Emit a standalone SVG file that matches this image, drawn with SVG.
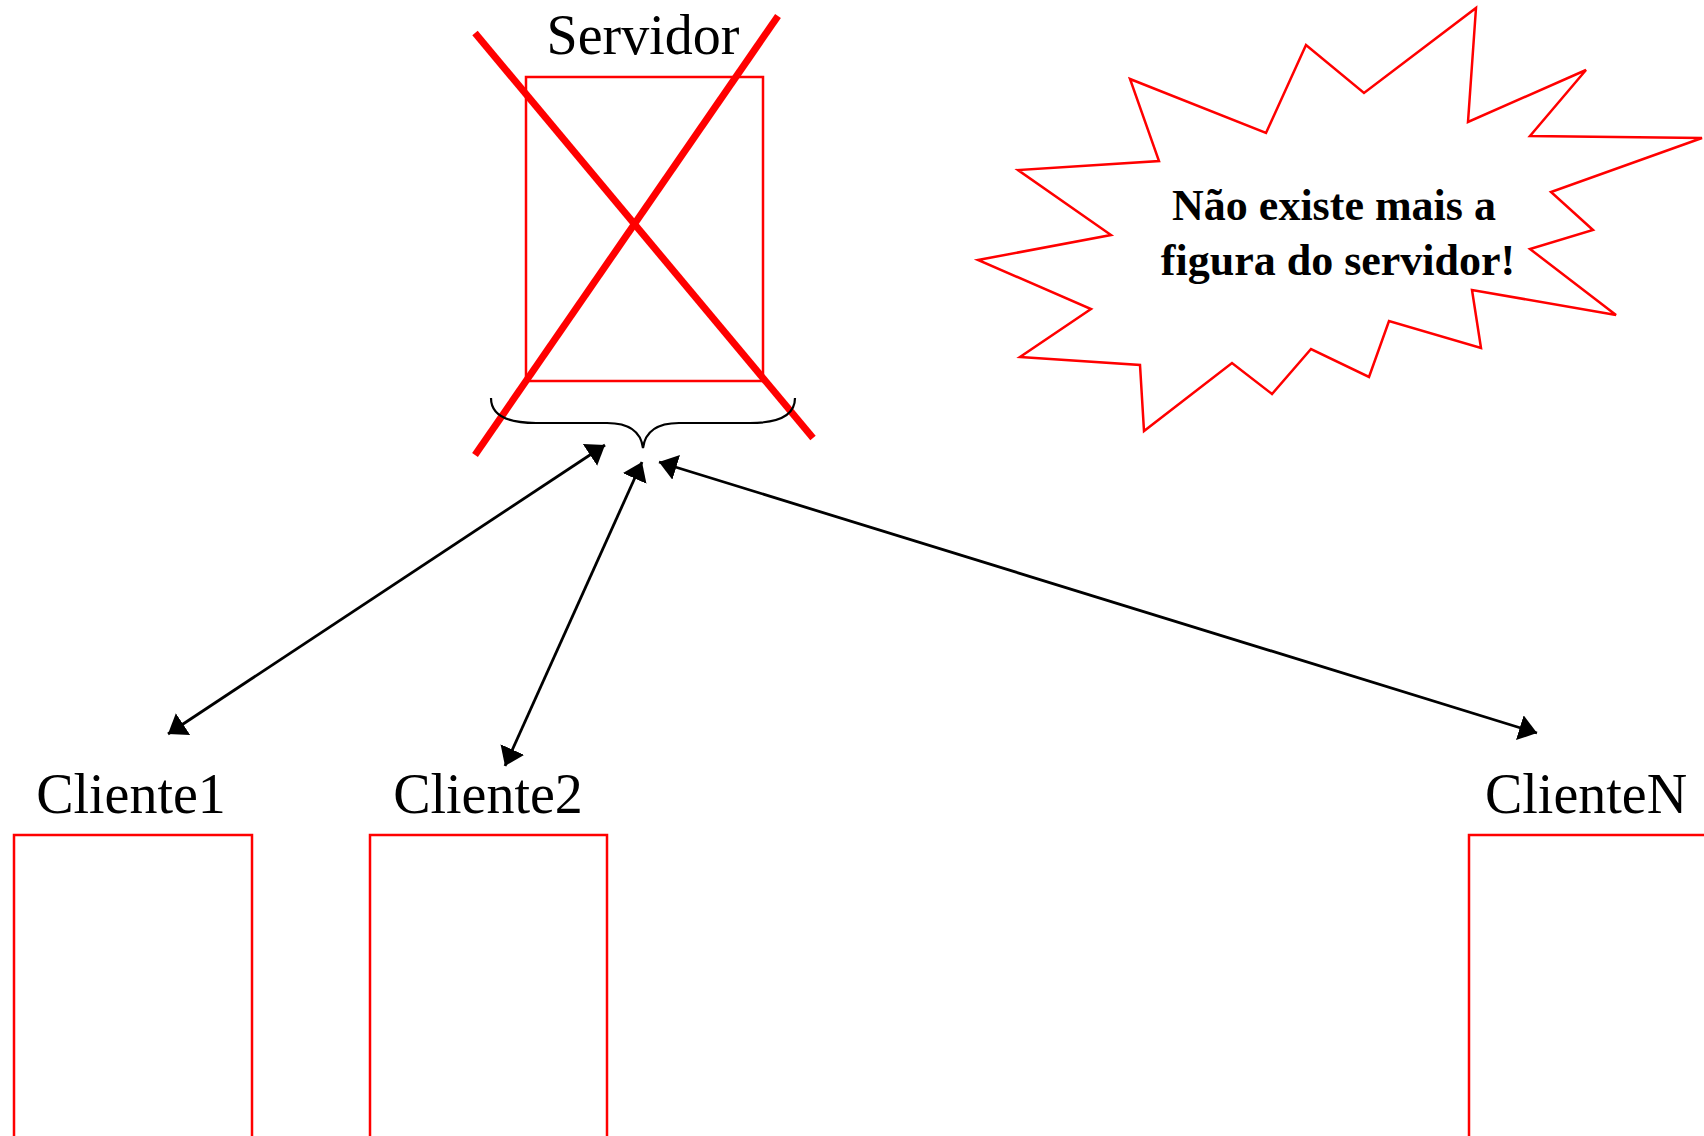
<svg xmlns="http://www.w3.org/2000/svg" width="1704" height="1136" viewBox="0 0 1704 1136">
  <style>
    .box { fill: none; stroke: #ff0000; stroke-width: 2.5; }
    .lbl { font-family: "Liberation Serif", "Times New Roman", serif; font-size: 56px; fill: #000; text-anchor: middle; }
    .burst { fill: #fff; stroke: #ff0000; stroke-width: 2.5; stroke-linejoin: miter; }
    .btxt { font-family: "Liberation Serif", "Times New Roman", serif; font-size: 44px; font-weight: bold; fill: #000; text-anchor: middle; }
    .cross { stroke: #ff0000; stroke-width: 7; }
    .conn { stroke: #000; stroke-width: 2.8; fill: none; marker-start: url(#ah); marker-end: url(#ah); }
    .brace { stroke: #000; stroke-width: 2.2; fill: none; }
  </style>
  <defs>
    <marker id="ah" markerUnits="userSpaceOnUse" markerWidth="20" markerHeight="26" refX="18" refY="13" orient="auto-start-reverse" viewBox="0 0 20 26">
      <path d="M0,0 L18,13 L0,26 z" fill="#000"/>
    </marker>
  </defs>
  <rect width="1704" height="1136" fill="#fff"/>

  <g id="servidor">
    <text class="lbl" x="643" y="54">Servidor</text>
    <rect class="box" x="526" y="77" width="237" height="304"/>
    <line class="cross" x1="475" y1="33" x2="813" y2="438"/>
    <line class="cross" x1="778" y1="16" x2="475" y2="455"/>
    <path class="brace" d="M491,398 C491,414 506,423 536,423 L607,423 C630,423 641,433 643,448 C645,433 656,423 679,423 L750,423 C780,423 795,414 795,398"/>
  </g>

  <g id="balao">
    <polygon class="burst" points="1130,79 1266,133 1306,45 1364,93 1476,8 1468,122 1586,70 1530,136 1702,138 1551,192 1593,230 1530,249 1616,315 1472,290 1481,348 1389,321 1369,377 1311,349 1272,394 1232,363 1144,431 1140,365 1020,357 1091,309 978,260 1111,235 1018,170 1159,161"/>
    <text class="btxt" x="1334" y="220">Não existe mais a</text>
    <text class="btxt" x="1338" y="275">figura do servidor!</text>
  </g>

  <g id="cliente1">
    <text class="lbl" x="131" y="813">Cliente1</text>
    <rect class="box" x="14" y="835" width="238" height="320"/>
  </g>

  <g id="cliente2">
    <text class="lbl" x="488" y="813">Cliente2</text>
    <rect class="box" x="370" y="835" width="237" height="320"/>
  </g>

  <g id="clienteN">
    <text class="lbl" x="1586" y="813">ClienteN</text>
    <rect class="box" x="1469" y="835" width="260" height="320"/>
  </g>

  <g id="conectores">
    <line class="conn" x1="605" y1="445" x2="168" y2="734"/>
    <line class="conn" x1="642" y1="462" x2="505" y2="766"/>
    <line class="conn" x1="659" y1="462" x2="1537" y2="733"/>
  </g>
</svg>
